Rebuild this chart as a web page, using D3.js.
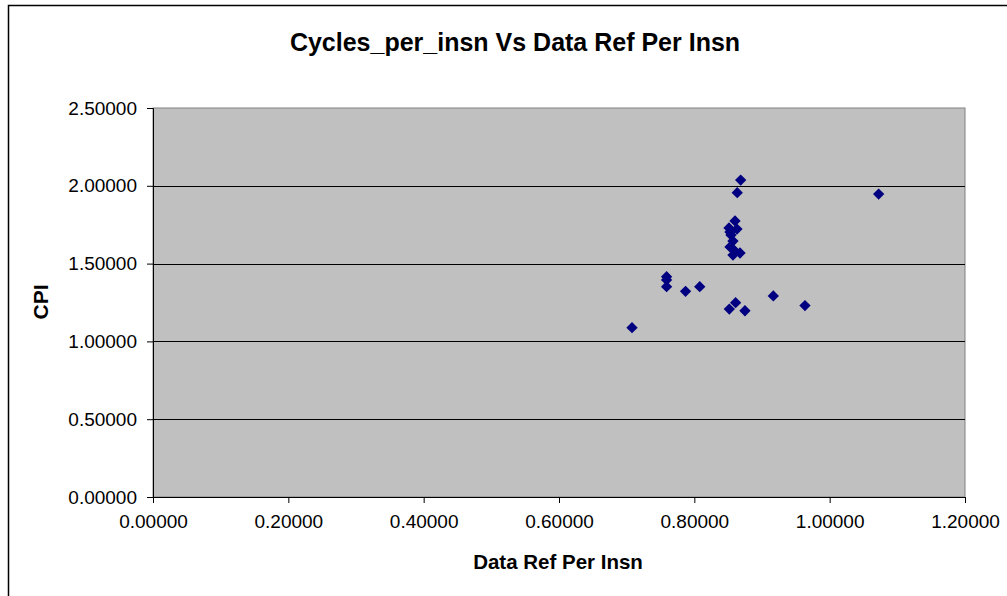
<!DOCTYPE html>
<html>
<head>
<meta charset="utf-8">
<script src="https://cdn.jsdelivr.net/npm/d3@7"></script>
<style>
  body { margin: 0; background: #fff; }
  svg { display: block; font-family: "Liberation Sans", Arial, sans-serif; }
</style>
</head>
<body>
<svg id="chart" width="1007" height="596"></svg>
<script>
// data ref per insn (x) and cycles per insn (y)
let dataRef = [0.8685, 0.8634, 1.0724, 0.8601, 0.8512, 0.8630, 0.8542, 0.8527, 0.8571,
  0.8527, 0.8586, 0.8571, 0.8675, 0.7590, 0.7590, 0.7590, 0.7870, 0.8080,
  0.8517, 0.8610, 0.8748, 0.9167, 0.9635, 0.7079]
let cpi = [2.037, 1.956, 1.947, 1.774, 1.729, 1.722, 1.684, 1.703, 1.645,
  1.607, 1.587, 1.555, 1.568, 1.416, 1.395, 1.352, 1.322, 1.352,
  1.208, 1.249, 1.197, 1.292, 1.230, 1.088]

let xTicks = [0, 0.2, 0.4, 0.6, 0.8, 1.0, 1.2]
let yTicks = [0, 0.5, 1.0, 1.5, 2.0, 2.5]

let width = 1007
let height = 596
let margin = { top: 108, right: 42, bottom: 99, left: 153 }

let svg = d3.select("#chart")

// outer chart frame
svg.append("rect")
  .attr("x", 8.5).attr("y", 5.5)
  .attr("width", width + 10).attr("height", height + 10)
  .style("fill", "none").style("stroke", "#000").style("stroke-width", 1.5)

let x = d3.scaleLinear().domain([0, 1.2]).range([margin.left, width - margin.right])
let y = d3.scaleLinear().domain([0, 2.5]).range([height - margin.bottom, margin.top])

// plot area
svg.append("rect")
  .attr("x", x(0)).attr("y", y(2.5))
  .attr("width", x(1.2) - x(0)).attr("height", y(0) - y(2.5))
  .style("fill", "#c0c0c0")
  .style("stroke", "#808080")

// gridlines
svg.append("g")
  .selectAll("line")
  .data(yTicks.filter(d => d > 0 && d < 2.5))
  .join("line")
  .attr("x1", x(0)).attr("x2", x(1.2))
  .attr("y1", d => Math.round(y(d)) + 0.5).attr("y2", d => Math.round(y(d)) + 0.5)
  .style("stroke", "#000")

let fmt = d3.format(".5f")

let xAxis = svg.append("g")
  .attr("transform", `translate(0,${y(0)})`)
  .call(d3.axisBottom(x).tickValues(xTicks).tickSize(6).tickPadding(12).tickFormat(fmt))
xAxis.select(".domain").style("stroke", "#000")
xAxis.selectAll("text").style("font-size", "19px").style("fill", "#000")

let yAxis = svg.append("g")
  .attr("transform", `translate(${x(0)},0)`)
  .call(d3.axisLeft(y).tickValues(yTicks).tickSize(6).tickPadding(10).tickFormat(fmt))
yAxis.select(".domain").style("stroke", "#000")
yAxis.selectAll("text").style("font-size", "19px").style("fill", "#000")

// points
let points = dataRef.map((d, i) => ({ x: d, y: cpi[i] }))
svg.append("g")
  .selectAll("path")
  .data(points)
  .join("path")
  .attr("d", d3.symbol(d3.symbolSquare, 64))
  .attr("transform", d => `translate(${x(d.x)},${y(d.y)}) rotate(45)`)
  .style("fill", "#000080")

// title and axis labels
svg.append("text")
  .attr("x", 515).attr("y", 51)
  .attr("text-anchor", "middle")
  .style("font-size", "25px").style("font-weight", "bold")
  .text("Cycles_per_insn Vs Data Ref Per Insn")

svg.append("text")
  .attr("x", 558).attr("y", 569)
  .attr("text-anchor", "middle")
  .style("font-size", "20.5px").style("font-weight", "bold")
  .text("Data Ref Per Insn")

svg.append("text")
  .attr("transform", "translate(48,302) rotate(-90)")
  .attr("text-anchor", "middle")
  .style("font-size", "21px").style("font-weight", "bold")
  .text("CPI")
</script>
</body>
</html>
